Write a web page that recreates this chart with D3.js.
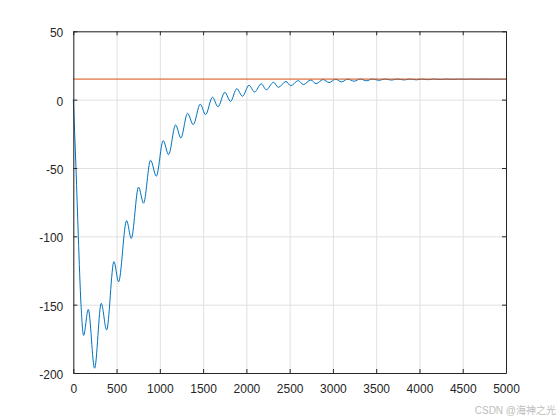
<html>
<head>
<script src="https://d3js.org/d3.v7.min.js"></script>
<style>
    body { margin: 0; background: #fff; }
    svg { display: block; }
    .tick text { font-family: Arial, 'Liberation Sans', sans-serif; font-size: 12px; fill: #262626; }
    .grid line { stroke: #e0e0e0; stroke-width: 1; }
    .grid path { display: none; }
</style>
</head>
<body>
<svg id="chart" width="560" height="420"></svg>
<script>

// blue response curve: turning points
var respX = [0, 31, 58, 89, 119, 173, 246, 323, 385, 470, 523, 616, 670, 754, 812, 893, 959,
    1039, 1101, 1182, 1243, 1320, 1386, 1467, 1528, 1609, 1671, 1751, 1817, 1889, 1955,
    2030, 2095, 2172, 2230, 2314, 2370, 2458, 2512, 2600, 2658, 2745, 2805, 2887, 2955,
    3030, 3100, 3172, 3245, 3314, 3390, 3456, 3535, 3598, 3680, 3740, 3825, 3882, 3965,
    4024, 4105, 4166, 4245, 4308, 4390, 4450, 4535, 4592, 4675, 4734, 4820, 4876, 4960, 5000];
var respY = [0, -50, -100, -150, -172.5, -153.5, -196.5, -149, -168.5, -118.5, -133.3, -88.5, -101.5,
    -64, -75.8, -44.3, -56, -30, -40.2, -18.5, -28, -10, -18.3, -3.3, -11, 1.8, -5.2, 5.3, -1.3,
    8, 2.5, 10.5, 5.6, 11.6, 7.2, 12.7, 9, 13.3, 10.2, 13.9, 11, 14.4, 11.7, 14.7, 12.5,
    14.9, 13.0, 15.0, 13.5, 15.1, 13.8, 15.1, 14.1, 15.1, 14.3, 15.1, 14.4, 15.05, 14.5,
    15.05, 14.6, 15.05, 14.7, 15.05, 14.8, 15.05, 14.85, 15.05, 14.9, 15.05, 14.95, 15.0, 14.95, 15];

// orange reference level
var refX = [0, 5000];
var refY = [15, 15];

var xTicks = [0, 500, 1000, 1500, 2000, 2500, 3000, 3500, 4000, 4500, 5000];
var yTicks = [-200, -150, -100, -50, 0, 50];

var svg = d3.select("#chart");
var padL = 73.3, padR = 506, padT = 31.3, padB = 373;

var x = d3.scaleLinear().domain([0, 5000]).range([padL, padR]);
var y = d3.scaleLinear().domain([-200, 50]).range([padB, padT]);
var fmt = function (d) { return String(d); };

svg.append("rect").attr("width", 560).attr("height", 420).attr("fill", "#fff");

// grid
svg.append("g").attr("class", "grid")
    .attr("transform", "translate(0," + padB + ")")
    .call(d3.axisBottom(x).tickValues(xTicks).tickSize(-(padB - padT)).tickFormat(""));
svg.append("g").attr("class", "grid")
    .attr("transform", "translate(" + padL + ",0)")
    .call(d3.axisLeft(y).tickValues(yTicks).tickSize(-(padR - padL)).tickFormat(""));

var pairs = d3.zip(respX, respY);
var refPairs = d3.zip(refX, refY);

var line = d3.line()
    .x(function (d) { return x(d[0]); })
    .y(function (d) { return y(d[1]); })
    .curve(d3.curveMonotoneX);

svg.append("path")
    .attr("d", line(pairs))
    .attr("fill", "none")
    .attr("stroke", "#0072BD")
    .attr("stroke-width", 1);

svg.append("path")
    .attr("d", line(refPairs))
    .attr("fill", "none")
    .attr("stroke", "#D95319")
    .attr("stroke-opacity", 0.6)
    .attr("stroke-width", 1.8);

// axes, ticks pointing inward, box on
function styleAxis(g) {
    g.selectAll("path, line").attr("stroke", "#262626");
}
svg.append("g")
    .attr("transform", "translate(0," + padB + ")")
    .call(d3.axisBottom(x).tickValues(xTicks).tickFormat(fmt).tickSizeInner(-4).tickSizeOuter(0).tickPadding(11))
    .call(styleAxis);
svg.append("g")
    .attr("transform", "translate(0," + padT + ")")
    .call(d3.axisTop(x).tickValues(xTicks).tickSizeInner(-4).tickSizeOuter(0).tickFormat(""))
    .call(styleAxis);
svg.append("g")
    .attr("transform", "translate(" + padL + ",0)")
    .call(d3.axisLeft(y).tickValues(yTicks).tickFormat(fmt).tickSizeInner(-4).tickSizeOuter(0).tickPadding(10))
    .call(styleAxis)
    .selectAll("text").attr("dy", "0.45em");
svg.append("g")
    .attr("transform", "translate(" + padR + ",0)")
    .call(d3.axisRight(y).tickValues(yTicks).tickSizeInner(-4).tickSizeOuter(0).tickFormat(""))
    .call(styleAxis);

svg.append("text")
    .attr("x", 556).attr("y", 414)
    .attr("text-anchor", "end")
    .attr("font-family", "Arial, 'Noto Sans CJK SC', sans-serif")
    .attr("font-size", 10)
    .attr("fill", "#bdbdbd")
    .text("CSDN @海神之光");

</script>
</body>
</html>
